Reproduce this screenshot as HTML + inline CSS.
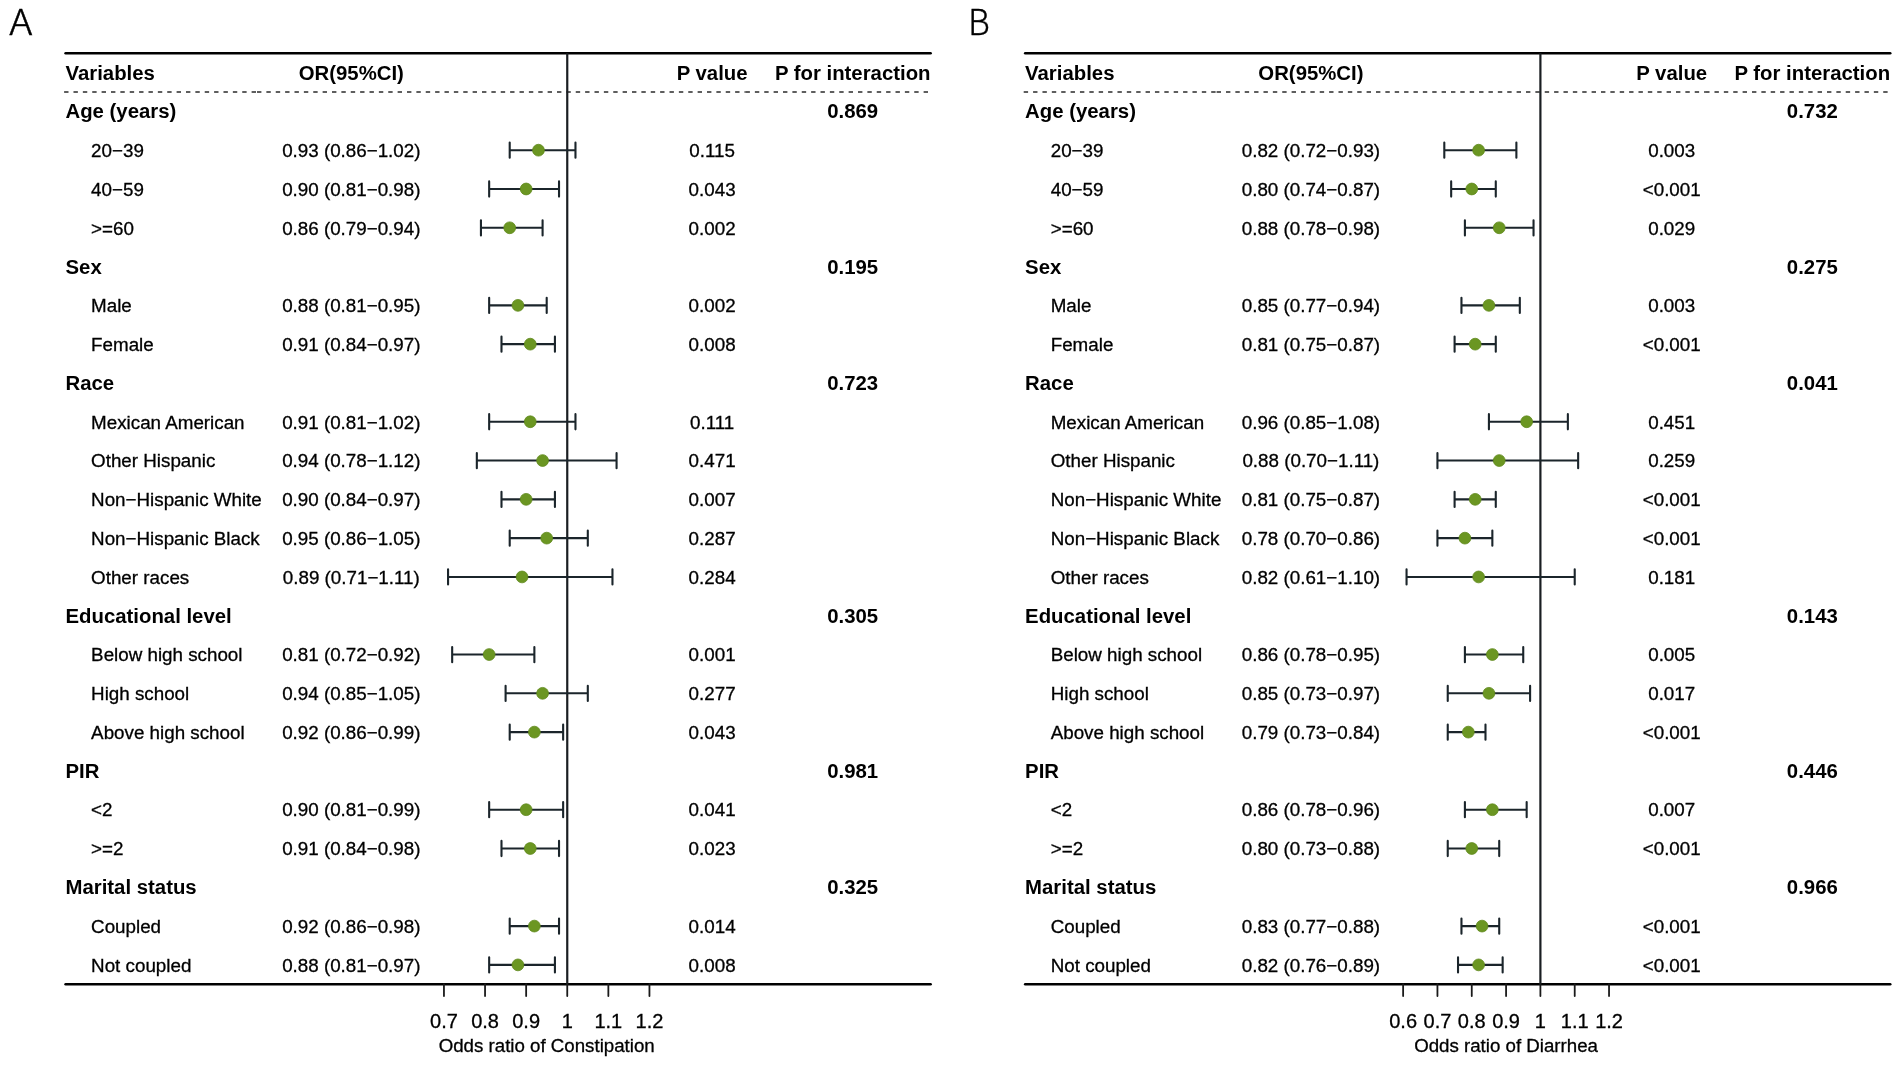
<!DOCTYPE html>
<html lang="en">
<head>
<meta charset="utf-8">
<title>Forest plots</title>
<style>
html,body{margin:0;padding:0;background:#fff;}
body{width:1901px;height:1065px;overflow:hidden;}
svg{display:block;filter:blur(.4px);}
text{font-family:"Liberation Sans",Arial,Helvetica,sans-serif;fill:#000;}
.r{font-size:18.8px;stroke:#000;stroke-width:.3px;}
.xl{font-size:18.7px;text-anchor:middle;stroke:#000;stroke-width:.3px;}
.rule{stroke:#000;stroke-width:2.6;stroke-linecap:round;}
.dash{stroke:#2a2a2a;stroke-width:1.5;stroke-dasharray:4.4 4.975;}
.b{font-size:20.35px;font-weight:bold;}
.tk{font-size:20.0px;text-anchor:middle;stroke:#000;stroke-width:.3px;}
.m{text-anchor:middle;}
.lt{font-family:"Noto Sans CJK SC","Liberation Sans",sans-serif;font-weight:300;font-size:35.5px;stroke:#000;stroke-width:.45px;}
.ci{fill:none;stroke:#1b252b;stroke-width:2.1;stroke-linecap:round;}
.pt{fill:#6b9622;stroke:#5f891c;stroke-width:0.8;}
</style>
</head>
<body>
<svg width="1901" height="1065" viewBox="0 0 1901 1065">
<rect width="1901" height="1065" fill="#fff"/>
<text class="lt" transform="translate(9.3 35) scale(1.105 1)">A</text>
<line class="rule" x1="65.6" x2="930.6" y1="53.3" y2="53.3"/>
<line class="rule" x1="65.6" x2="930.6" y1="984.2" y2="984.2"/>
<line class="dash" x1="64.1" x2="257" y1="92.1" y2="92.1"/>
<line class="dash" x1="257" x2="745.5" y1="92.1" y2="92.1"/>
<line class="dash" x1="745.5" x2="930.6" y1="92.1" y2="92.1"/>
<line x1="567.25" x2="567.25" y1="53.3" y2="984.2" stroke="#1a1e22" stroke-width="2.2"/>
<line x1="443.95" x2="443.95" y1="984.2" y2="996.1" stroke="#1a1a1a" stroke-width="1.8" stroke-linecap="round"/>
<text class="tk" x="443.95" y="1028.1">0.7</text>
<line x1="485.05" x2="485.05" y1="984.2" y2="996.1" stroke="#1a1a1a" stroke-width="1.8" stroke-linecap="round"/>
<text class="tk" x="485.05" y="1028.1">0.8</text>
<line x1="526.15" x2="526.15" y1="984.2" y2="996.1" stroke="#1a1a1a" stroke-width="1.8" stroke-linecap="round"/>
<text class="tk" x="526.15" y="1028.1">0.9</text>
<line x1="567.25" x2="567.25" y1="984.2" y2="996.1" stroke="#1a1a1a" stroke-width="1.8" stroke-linecap="round"/>
<text class="tk" x="567.25" y="1028.1">1</text>
<line x1="608.35" x2="608.35" y1="984.2" y2="996.1" stroke="#1a1a1a" stroke-width="1.8" stroke-linecap="round"/>
<text class="tk" x="608.35" y="1028.1">1.1</text>
<line x1="649.45" x2="649.45" y1="984.2" y2="996.1" stroke="#1a1a1a" stroke-width="1.8" stroke-linecap="round"/>
<text class="tk" x="649.45" y="1028.1">1.2</text>
<text class="xl" x="546.7" y="1051.8">Odds ratio of Constipation</text>
<text class="b" transform="translate(65.5 79.65) scale(1 1.0)">Variables</text>
<text class="b m" transform="translate(351.3 79.65) scale(1 1.0)">OR(95%CI)</text>
<text class="b m" transform="translate(712.1 79.65) scale(1 1.0)">P value</text>
<text class="b m" transform="translate(852.7 79.65) scale(1 1.0)">P for interaction</text>
<text class="b" transform="translate(65.5 118.44) scale(1 1.0)">Age (years)</text>
<text class="b m" transform="translate(852.7 118.44) scale(1 1.0)">0.869</text>
<text class="r" transform="translate(91.1 156.94) scale(1 1.0)">20−39</text>
<text class="r m" transform="translate(351.3 156.94) scale(1 1.0)">0.93 (0.86−1.02)</text>
<text class="r m" transform="translate(712.1 156.94) scale(1 1.0)">0.115</text>
<path class="ci" d="M509.71 150.19H575.47M509.71 142.59V157.79M575.47 142.59V157.79"/>
<circle class="pt" cx="538.48" cy="150.19" r="5.9"/>
<text class="r" transform="translate(91.1 195.74) scale(1 1.0)">40−59</text>
<text class="r m" transform="translate(351.3 195.74) scale(1 1.0)">0.90 (0.81−0.98)</text>
<text class="r m" transform="translate(712.1 195.74) scale(1 1.0)">0.043</text>
<path class="ci" d="M489.16 188.99H559.03M489.16 181.39V196.59M559.03 181.39V196.59"/>
<circle class="pt" cx="526.15" cy="188.99" r="5.9"/>
<text class="r" transform="translate(91.1 234.53) scale(1 1.0)">&gt;=60</text>
<text class="r m" transform="translate(351.3 234.53) scale(1 1.0)">0.86 (0.79−0.94)</text>
<text class="r m" transform="translate(712.1 234.53) scale(1 1.0)">0.002</text>
<path class="ci" d="M480.94 227.78H542.59M480.94 220.18V235.38M542.59 220.18V235.38"/>
<circle class="pt" cx="509.71" cy="227.78" r="5.9"/>
<text class="b" transform="translate(65.5 273.63) scale(1 1.0)">Sex</text>
<text class="b m" transform="translate(852.7 273.63) scale(1 1.0)">0.195</text>
<text class="r" transform="translate(91.1 312.12) scale(1 1.0)">Male</text>
<text class="r m" transform="translate(351.3 312.12) scale(1 1.0)">0.88 (0.81−0.95)</text>
<text class="r m" transform="translate(712.1 312.12) scale(1 1.0)">0.002</text>
<path class="ci" d="M489.16 305.37H546.7M489.16 297.77V312.97M546.7 297.77V312.97"/>
<circle class="pt" cx="517.93" cy="305.37" r="5.9"/>
<text class="r" transform="translate(91.1 350.91) scale(1 1.0)">Female</text>
<text class="r m" transform="translate(351.3 350.91) scale(1 1.0)">0.91 (0.84−0.97)</text>
<text class="r m" transform="translate(712.1 350.91) scale(1 1.0)">0.008</text>
<path class="ci" d="M501.49 344.16H554.92M501.49 336.56V351.76M554.92 336.56V351.76"/>
<circle class="pt" cx="530.26" cy="344.16" r="5.9"/>
<text class="b" transform="translate(65.5 390.01) scale(1 1.0)">Race</text>
<text class="b m" transform="translate(852.7 390.01) scale(1 1.0)">0.723</text>
<text class="r" transform="translate(91.1 428.5) scale(1 1.0)">Mexican American</text>
<text class="r m" transform="translate(351.3 428.5) scale(1 1.0)">0.91 (0.81−1.02)</text>
<text class="r m" transform="translate(712.1 428.5) scale(1 1.0)">0.111</text>
<path class="ci" d="M489.16 421.75H575.47M489.16 414.15V429.36M575.47 414.15V429.36"/>
<circle class="pt" cx="530.26" cy="421.75" r="5.9"/>
<text class="r" transform="translate(91.1 467.3) scale(1 1.0)">Other Hispanic</text>
<text class="r m" transform="translate(351.3 467.3) scale(1 1.0)">0.94 (0.78−1.12)</text>
<text class="r m" transform="translate(712.1 467.3) scale(1 1.0)">0.471</text>
<path class="ci" d="M476.83 460.55H616.57M476.83 452.95V468.15M616.57 452.95V468.15"/>
<circle class="pt" cx="542.59" cy="460.55" r="5.9"/>
<text class="r" transform="translate(91.1 506.1) scale(1 1.0)">Non−Hispanic White</text>
<text class="r m" transform="translate(351.3 506.1) scale(1 1.0)">0.90 (0.84−0.97)</text>
<text class="r m" transform="translate(712.1 506.1) scale(1 1.0)">0.007</text>
<path class="ci" d="M501.49 499.35H554.92M501.49 491.75V506.95M554.92 491.75V506.95"/>
<circle class="pt" cx="526.15" cy="499.35" r="5.9"/>
<text class="r" transform="translate(91.1 544.89) scale(1 1.0)">Non−Hispanic Black</text>
<text class="r m" transform="translate(351.3 544.89) scale(1 1.0)">0.95 (0.86−1.05)</text>
<text class="r m" transform="translate(712.1 544.89) scale(1 1.0)">0.287</text>
<path class="ci" d="M509.71 538.14H587.8M509.71 530.54V545.74M587.8 530.54V545.74"/>
<circle class="pt" cx="546.7" cy="538.14" r="5.9"/>
<text class="r" transform="translate(91.1 583.69) scale(1 1.0)">Other races</text>
<text class="r m" transform="translate(351.3 583.69) scale(1 1.0)">0.89 (0.71−1.11)</text>
<text class="r m" transform="translate(712.1 583.69) scale(1 1.0)">0.284</text>
<path class="ci" d="M448.06 576.94H612.46M448.06 569.34V584.54M612.46 569.34V584.54"/>
<circle class="pt" cx="522.04" cy="576.94" r="5.9"/>
<text class="b" transform="translate(65.5 622.78) scale(1 1.0)">Educational level</text>
<text class="b m" transform="translate(852.7 622.78) scale(1 1.0)">0.305</text>
<text class="r" transform="translate(91.1 661.28) scale(1 1.0)">Below high school</text>
<text class="r m" transform="translate(351.3 661.28) scale(1 1.0)">0.81 (0.72−0.92)</text>
<text class="r m" transform="translate(712.1 661.28) scale(1 1.0)">0.001</text>
<path class="ci" d="M452.17 654.53H534.37M452.17 646.93V662.13M534.37 646.93V662.13"/>
<circle class="pt" cx="489.16" cy="654.53" r="5.9"/>
<text class="r" transform="translate(91.1 700.07) scale(1 1.0)">High school</text>
<text class="r m" transform="translate(351.3 700.07) scale(1 1.0)">0.94 (0.85−1.05)</text>
<text class="r m" transform="translate(712.1 700.07) scale(1 1.0)">0.277</text>
<path class="ci" d="M505.6 693.32H587.8M505.6 685.72V700.92M587.8 685.72V700.92"/>
<circle class="pt" cx="542.59" cy="693.32" r="5.9"/>
<text class="r" transform="translate(91.1 738.87) scale(1 1.0)">Above high school</text>
<text class="r m" transform="translate(351.3 738.87) scale(1 1.0)">0.92 (0.86−0.99)</text>
<text class="r m" transform="translate(712.1 738.87) scale(1 1.0)">0.043</text>
<path class="ci" d="M509.71 732.12H563.14M509.71 724.51V739.72M563.14 724.51V739.72"/>
<circle class="pt" cx="534.37" cy="732.12" r="5.9"/>
<text class="b" transform="translate(65.5 777.96) scale(1 1.0)">PIR</text>
<text class="b m" transform="translate(852.7 777.96) scale(1 1.0)">0.981</text>
<text class="r" transform="translate(91.1 816.46) scale(1 1.0)">&lt;2</text>
<text class="r m" transform="translate(351.3 816.46) scale(1 1.0)">0.90 (0.81−0.99)</text>
<text class="r m" transform="translate(712.1 816.46) scale(1 1.0)">0.041</text>
<path class="ci" d="M489.16 809.71H563.14M489.16 802.11V817.31M563.14 802.11V817.31"/>
<circle class="pt" cx="526.15" cy="809.71" r="5.9"/>
<text class="r" transform="translate(91.1 855.25) scale(1 1.0)">&gt;=2</text>
<text class="r m" transform="translate(351.3 855.25) scale(1 1.0)">0.91 (0.84−0.98)</text>
<text class="r m" transform="translate(712.1 855.25) scale(1 1.0)">0.023</text>
<path class="ci" d="M501.49 848.5H559.03M501.49 840.9V856.1M559.03 840.9V856.1"/>
<circle class="pt" cx="530.26" cy="848.5" r="5.9"/>
<text class="b" transform="translate(65.5 894.35) scale(1 1.0)">Marital status</text>
<text class="b m" transform="translate(852.7 894.35) scale(1 1.0)">0.325</text>
<text class="r" transform="translate(91.1 932.84) scale(1 1.0)">Coupled</text>
<text class="r m" transform="translate(351.3 932.84) scale(1 1.0)">0.92 (0.86−0.98)</text>
<text class="r m" transform="translate(712.1 932.84) scale(1 1.0)">0.014</text>
<path class="ci" d="M509.71 926.09H559.03M509.71 918.49V933.69M559.03 918.49V933.69"/>
<circle class="pt" cx="534.37" cy="926.09" r="5.9"/>
<text class="r" transform="translate(91.1 971.64) scale(1 1.0)">Not coupled</text>
<text class="r m" transform="translate(351.3 971.64) scale(1 1.0)">0.88 (0.81−0.97)</text>
<text class="r m" transform="translate(712.1 971.64) scale(1 1.0)">0.008</text>
<path class="ci" d="M489.16 964.89H554.92M489.16 957.29V972.49M554.92 957.29V972.49"/>
<circle class="pt" cx="517.93" cy="964.89" r="5.9"/>
<text class="lt" transform="translate(968.2 35) scale(0.94 1)">B</text>
<line class="rule" x1="1025.2" x2="1890.2" y1="53.3" y2="53.3"/>
<line class="rule" x1="1025.2" x2="1890.2" y1="984.2" y2="984.2"/>
<line class="dash" x1="1023.7" x2="1216.6" y1="92.1" y2="92.1"/>
<line class="dash" x1="1216.6" x2="1705.1" y1="92.1" y2="92.1"/>
<line class="dash" x1="1705.1" x2="1890.2" y1="92.1" y2="92.1"/>
<line x1="1540.4" x2="1540.4" y1="53.3" y2="984.2" stroke="#1a1e22" stroke-width="2.2"/>
<line x1="1403.12" x2="1403.12" y1="984.2" y2="996.1" stroke="#1a1a1a" stroke-width="1.8" stroke-linecap="round"/>
<text class="tk" x="1403.12" y="1028.1">0.6</text>
<line x1="1437.44" x2="1437.44" y1="984.2" y2="996.1" stroke="#1a1a1a" stroke-width="1.8" stroke-linecap="round"/>
<text class="tk" x="1437.44" y="1028.1">0.7</text>
<line x1="1471.76" x2="1471.76" y1="984.2" y2="996.1" stroke="#1a1a1a" stroke-width="1.8" stroke-linecap="round"/>
<text class="tk" x="1471.76" y="1028.1">0.8</text>
<line x1="1506.08" x2="1506.08" y1="984.2" y2="996.1" stroke="#1a1a1a" stroke-width="1.8" stroke-linecap="round"/>
<text class="tk" x="1506.08" y="1028.1">0.9</text>
<line x1="1540.4" x2="1540.4" y1="984.2" y2="996.1" stroke="#1a1a1a" stroke-width="1.8" stroke-linecap="round"/>
<text class="tk" x="1540.4" y="1028.1">1</text>
<line x1="1574.72" x2="1574.72" y1="984.2" y2="996.1" stroke="#1a1a1a" stroke-width="1.8" stroke-linecap="round"/>
<text class="tk" x="1574.72" y="1028.1">1.1</text>
<line x1="1609.04" x2="1609.04" y1="984.2" y2="996.1" stroke="#1a1a1a" stroke-width="1.8" stroke-linecap="round"/>
<text class="tk" x="1609.04" y="1028.1">1.2</text>
<text class="xl" x="1506.08" y="1051.8">Odds ratio of Diarrhea</text>
<text class="b" transform="translate(1025.1 79.65) scale(1 1.0)">Variables</text>
<text class="b m" transform="translate(1310.9 79.65) scale(1 1.0)">OR(95%CI)</text>
<text class="b m" transform="translate(1671.7 79.65) scale(1 1.0)">P value</text>
<text class="b m" transform="translate(1812.3 79.65) scale(1 1.0)">P for interaction</text>
<text class="b" transform="translate(1025.1 118.44) scale(1 1.0)">Age (years)</text>
<text class="b m" transform="translate(1812.3 118.44) scale(1 1.0)">0.732</text>
<text class="r" transform="translate(1050.7 156.94) scale(1 1.0)">20−39</text>
<text class="r m" transform="translate(1310.9 156.94) scale(1 1.0)">0.82 (0.72−0.93)</text>
<text class="r m" transform="translate(1671.7 156.94) scale(1 1.0)">0.003</text>
<path class="ci" d="M1444.3 150.19H1516.38M1444.3 142.59V157.79M1516.38 142.59V157.79"/>
<circle class="pt" cx="1478.62" cy="150.19" r="5.9"/>
<text class="r" transform="translate(1050.7 195.74) scale(1 1.0)">40−59</text>
<text class="r m" transform="translate(1310.9 195.74) scale(1 1.0)">0.80 (0.74−0.87)</text>
<text class="r m" transform="translate(1671.7 195.74) scale(1 1.0)">&lt;0.001</text>
<path class="ci" d="M1451.17 188.99H1495.78M1451.17 181.39V196.59M1495.78 181.39V196.59"/>
<circle class="pt" cx="1471.76" cy="188.99" r="5.9"/>
<text class="r" transform="translate(1050.7 234.53) scale(1 1.0)">&gt;=60</text>
<text class="r m" transform="translate(1310.9 234.53) scale(1 1.0)">0.88 (0.78−0.98)</text>
<text class="r m" transform="translate(1671.7 234.53) scale(1 1.0)">0.029</text>
<path class="ci" d="M1464.9 227.78H1533.54M1464.9 220.18V235.38M1533.54 220.18V235.38"/>
<circle class="pt" cx="1499.22" cy="227.78" r="5.9"/>
<text class="b" transform="translate(1025.1 273.63) scale(1 1.0)">Sex</text>
<text class="b m" transform="translate(1812.3 273.63) scale(1 1.0)">0.275</text>
<text class="r" transform="translate(1050.7 312.12) scale(1 1.0)">Male</text>
<text class="r m" transform="translate(1310.9 312.12) scale(1 1.0)">0.85 (0.77−0.94)</text>
<text class="r m" transform="translate(1671.7 312.12) scale(1 1.0)">0.003</text>
<path class="ci" d="M1461.46 305.37H1519.81M1461.46 297.77V312.97M1519.81 297.77V312.97"/>
<circle class="pt" cx="1488.92" cy="305.37" r="5.9"/>
<text class="r" transform="translate(1050.7 350.91) scale(1 1.0)">Female</text>
<text class="r m" transform="translate(1310.9 350.91) scale(1 1.0)">0.81 (0.75−0.87)</text>
<text class="r m" transform="translate(1671.7 350.91) scale(1 1.0)">&lt;0.001</text>
<path class="ci" d="M1454.6 344.16H1495.78M1454.6 336.56V351.76M1495.78 336.56V351.76"/>
<circle class="pt" cx="1475.19" cy="344.16" r="5.9"/>
<text class="b" transform="translate(1025.1 390.01) scale(1 1.0)">Race</text>
<text class="b m" transform="translate(1812.3 390.01) scale(1 1.0)">0.041</text>
<text class="r" transform="translate(1050.7 428.5) scale(1 1.0)">Mexican American</text>
<text class="r m" transform="translate(1310.9 428.5) scale(1 1.0)">0.96 (0.85−1.08)</text>
<text class="r m" transform="translate(1671.7 428.5) scale(1 1.0)">0.451</text>
<path class="ci" d="M1488.92 421.75H1567.86M1488.92 414.15V429.36M1567.86 414.15V429.36"/>
<circle class="pt" cx="1526.67" cy="421.75" r="5.9"/>
<text class="r" transform="translate(1050.7 467.3) scale(1 1.0)">Other Hispanic</text>
<text class="r m" transform="translate(1310.9 467.3) scale(1 1.0)">0.88 (0.70−1.11)</text>
<text class="r m" transform="translate(1671.7 467.3) scale(1 1.0)">0.259</text>
<path class="ci" d="M1437.44 460.55H1578.15M1437.44 452.95V468.15M1578.15 452.95V468.15"/>
<circle class="pt" cx="1499.22" cy="460.55" r="5.9"/>
<text class="r" transform="translate(1050.7 506.1) scale(1 1.0)">Non−Hispanic White</text>
<text class="r m" transform="translate(1310.9 506.1) scale(1 1.0)">0.81 (0.75−0.87)</text>
<text class="r m" transform="translate(1671.7 506.1) scale(1 1.0)">&lt;0.001</text>
<path class="ci" d="M1454.6 499.35H1495.78M1454.6 491.75V506.95M1495.78 491.75V506.95"/>
<circle class="pt" cx="1475.19" cy="499.35" r="5.9"/>
<text class="r" transform="translate(1050.7 544.89) scale(1 1.0)">Non−Hispanic Black</text>
<text class="r m" transform="translate(1310.9 544.89) scale(1 1.0)">0.78 (0.70−0.86)</text>
<text class="r m" transform="translate(1671.7 544.89) scale(1 1.0)">&lt;0.001</text>
<path class="ci" d="M1437.44 538.14H1492.35M1437.44 530.54V545.74M1492.35 530.54V545.74"/>
<circle class="pt" cx="1464.9" cy="538.14" r="5.9"/>
<text class="r" transform="translate(1050.7 583.69) scale(1 1.0)">Other races</text>
<text class="r m" transform="translate(1310.9 583.69) scale(1 1.0)">0.82 (0.61−1.10)</text>
<text class="r m" transform="translate(1671.7 583.69) scale(1 1.0)">0.181</text>
<path class="ci" d="M1406.55 576.94H1574.72M1406.55 569.34V584.54M1574.72 569.34V584.54"/>
<circle class="pt" cx="1478.62" cy="576.94" r="5.9"/>
<text class="b" transform="translate(1025.1 622.78) scale(1 1.0)">Educational level</text>
<text class="b m" transform="translate(1812.3 622.78) scale(1 1.0)">0.143</text>
<text class="r" transform="translate(1050.7 661.28) scale(1 1.0)">Below high school</text>
<text class="r m" transform="translate(1310.9 661.28) scale(1 1.0)">0.86 (0.78−0.95)</text>
<text class="r m" transform="translate(1671.7 661.28) scale(1 1.0)">0.005</text>
<path class="ci" d="M1464.9 654.53H1523.24M1464.9 646.93V662.13M1523.24 646.93V662.13"/>
<circle class="pt" cx="1492.35" cy="654.53" r="5.9"/>
<text class="r" transform="translate(1050.7 700.07) scale(1 1.0)">High school</text>
<text class="r m" transform="translate(1310.9 700.07) scale(1 1.0)">0.85 (0.73−0.97)</text>
<text class="r m" transform="translate(1671.7 700.07) scale(1 1.0)">0.017</text>
<path class="ci" d="M1447.74 693.32H1530.1M1447.74 685.72V700.92M1530.1 685.72V700.92"/>
<circle class="pt" cx="1488.92" cy="693.32" r="5.9"/>
<text class="r" transform="translate(1050.7 738.87) scale(1 1.0)">Above high school</text>
<text class="r m" transform="translate(1310.9 738.87) scale(1 1.0)">0.79 (0.73−0.84)</text>
<text class="r m" transform="translate(1671.7 738.87) scale(1 1.0)">&lt;0.001</text>
<path class="ci" d="M1447.74 732.12H1485.49M1447.74 724.51V739.72M1485.49 724.51V739.72"/>
<circle class="pt" cx="1468.33" cy="732.12" r="5.9"/>
<text class="b" transform="translate(1025.1 777.96) scale(1 1.0)">PIR</text>
<text class="b m" transform="translate(1812.3 777.96) scale(1 1.0)">0.446</text>
<text class="r" transform="translate(1050.7 816.46) scale(1 1.0)">&lt;2</text>
<text class="r m" transform="translate(1310.9 816.46) scale(1 1.0)">0.86 (0.78−0.96)</text>
<text class="r m" transform="translate(1671.7 816.46) scale(1 1.0)">0.007</text>
<path class="ci" d="M1464.9 809.71H1526.67M1464.9 802.11V817.31M1526.67 802.11V817.31"/>
<circle class="pt" cx="1492.35" cy="809.71" r="5.9"/>
<text class="r" transform="translate(1050.7 855.25) scale(1 1.0)">&gt;=2</text>
<text class="r m" transform="translate(1310.9 855.25) scale(1 1.0)">0.80 (0.73−0.88)</text>
<text class="r m" transform="translate(1671.7 855.25) scale(1 1.0)">&lt;0.001</text>
<path class="ci" d="M1447.74 848.5H1499.22M1447.74 840.9V856.1M1499.22 840.9V856.1"/>
<circle class="pt" cx="1471.76" cy="848.5" r="5.9"/>
<text class="b" transform="translate(1025.1 894.35) scale(1 1.0)">Marital status</text>
<text class="b m" transform="translate(1812.3 894.35) scale(1 1.0)">0.966</text>
<text class="r" transform="translate(1050.7 932.84) scale(1 1.0)">Coupled</text>
<text class="r m" transform="translate(1310.9 932.84) scale(1 1.0)">0.83 (0.77−0.88)</text>
<text class="r m" transform="translate(1671.7 932.84) scale(1 1.0)">&lt;0.001</text>
<path class="ci" d="M1461.46 926.09H1499.22M1461.46 918.49V933.69M1499.22 918.49V933.69"/>
<circle class="pt" cx="1482.06" cy="926.09" r="5.9"/>
<text class="r" transform="translate(1050.7 971.64) scale(1 1.0)">Not coupled</text>
<text class="r m" transform="translate(1310.9 971.64) scale(1 1.0)">0.82 (0.76−0.89)</text>
<text class="r m" transform="translate(1671.7 971.64) scale(1 1.0)">&lt;0.001</text>
<path class="ci" d="M1458.03 964.89H1502.65M1458.03 957.29V972.49M1502.65 957.29V972.49"/>
<circle class="pt" cx="1478.62" cy="964.89" r="5.9"/>
</svg>
</body>
</html>
